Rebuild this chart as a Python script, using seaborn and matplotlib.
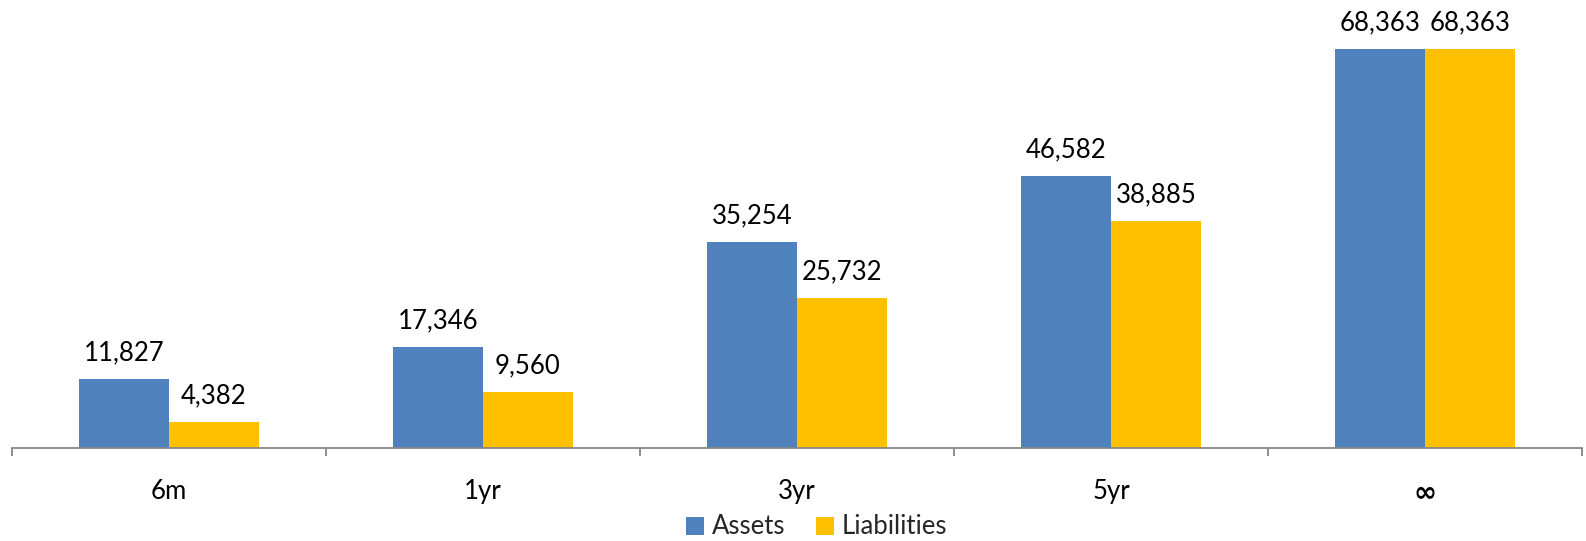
import matplotlib
matplotlib.use("Agg")
import matplotlib.pyplot as plt
import seaborn as sns
import pandas as pd
import numpy as np

# Maturity buckets and cumulative balances
buckets = ["6m", "1yr", "3yr", "5yr", "∞"]
assets = [11827, 17346, 35254, 46582, 68363]
liabilities = [4382, 9560, 25732, 38885, 68363]
series_names = ["Assets", "Liabilities"]
palette = ["#4F81BD", "#FFC000"]

df = pd.DataFrame({
    "bucket": buckets * 2,
    "value": assets + liabilities,
    "series": [series_names[0]] * len(buckets) + [series_names[1]] * len(buckets),
})

sns.set_style("white")
plt.rcParams["font.family"] = ["Lato", "DejaVu Sans"]

fig = plt.figure(figsize=(15.86, 5.41), dpi=100)
ax = fig.add_axes([12 / 1586, 93 / 541, 1570 / 1586, 448 / 541])

sns.barplot(data=df, x="bucket", y="value", hue="series", order=buckets,
            hue_order=series_names, palette=palette, width=0.573, gap=0,
            saturation=1, linewidth=0, ax=ax, legend=True)

# Value labels above each bar
for container in ax.containers:
    for bar in container:
        h = bar.get_height()
        ax.annotate(f"{h:,.0f}", (bar.get_x() + bar.get_width() / 2, h),
                    xytext=(0, 19), textcoords="offset points",
                    ha="center", va="center", fontsize=18.5, color="#000000")

ax.set_xlim(-0.5, len(buckets) - 0.5)
ax.set_ylim(0, 76760)
ax.set_xlabel("")
ax.set_ylabel("")
ax.set_yticks([])
for side in ["top", "right", "left"]:
    ax.spines[side].set_visible(False)
ax.spines["bottom"].set_color("#868686")
ax.spines["bottom"].set_linewidth(1.3)

ax.tick_params(axis="x", which="major", length=0, pad=22, labelsize=18.5,
               labelcolor="#000000")
for lbl in ax.get_xticklabels():
    if lbl.get_text() == "∞":
        lbl.set_fontfamily("DejaVu Sans")
        lbl.set_fontsize(20)
        lbl.set_fontweight("bold")
ax.set_xticks(np.arange(-0.5, len(buckets), 1.0), minor=True)
ax.tick_params(axis="x", which="minor", bottom=True, length=6, width=1.3,
               color="#868686", direction="out")

leg = ax.legend(loc="center", bbox_to_anchor=(817 / 1586, 14 / 541),
                bbox_transform=fig.transFigure, ncol=2, frameon=False,
                fontsize=18.5, handlelength=0.7, handleheight=0.7,
                handletextpad=0.3, columnspacing=1.2)

fig.savefig("out.png", dpi=100)
